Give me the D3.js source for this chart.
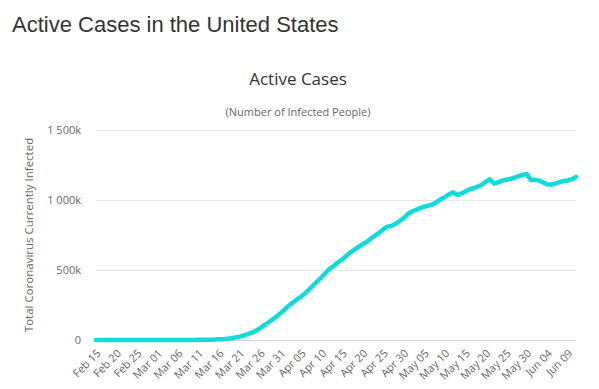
<!DOCTYPE html>
<html>

<head>
  <script src="https://d3js.org/d3.v7.min.js"></script>
  <style>
    body { margin: 0; background: #fff; }
  </style>
</head>

<body>
  <svg id="chart" width="599" height="389"></svg>
  <script>
    // daily active cases, Feb 15 2020 .. Jun 11 2020
    const startDate = new Date(2020, 1, 15);
    const activeCases = [
      12, 12, 12, 12, 12, 12, 12, 22, 22, 22, 40, 45, 48, 52, 55,          // Feb 15 - Feb 29
      65, 70, 90, 120, 160, 210, 300, 400, 500, 650, 900, 1200, 1600, 2100, 2800, // Mar 01 - Mar 15
      4500, 6000, 8500, 12500, 18000, 24000, 32000, 42000, 52000, 66000, 85000,  // Mar 16 - Mar 26
      105000, 125000, 145000, 168000, 192000,                              // Mar 27 - Mar 31
      218000, 245000, 268000, 290000, 310000, 335000, 362000, 392000, 420000, 450000, // Apr 01 - Apr 10
      480000, 510000, 530000, 555000, 575000, 600000, 625000, 645000, 665000, 685000, // Apr 11 - Apr 20
      700000, 725000, 745000, 765000, 790000, 810000, 815000, 830000, 850000, 870000, // Apr 21 - Apr 30
      900000, 918000, 930000, 942000, 952000, 960000, 968000, 985000, 1005000, 1020000, // May 01 - May 10
      1040000, 1055000, 1036000, 1045000, 1060000, 1075000, 1085000, 1095000, 1108000, 1130000, // May 11 - May 20
      1148000, 1118000, 1125000, 1138000, 1145000, 1150000, 1160000, 1170000, 1180000, 1186000, // May 21 - May 30
      1143000, 1145000, 1138000, 1125000, 1110000, 1110000, 1118000, 1128000, 1136000, 1140000, // May 31 - Jun 09
      1148000, 1165000                                                     // Jun 10 - Jun 11
    ];
    const yTicks = [0, 500000, 1000000, 1500000];
    const yTickLabels = ["0", "500k", "1 000k", "1 500k"];
    const tickEvery = 5;

    const data = activeCases.map((v, i) => ({ date: d3.timeDay.offset(startDate, i), value: v }));

    const svg = d3.select('svg#chart');
    const margins = { top: 130, right: 23, bottom: 49, left: 96 };
    const width = +svg.attr('width');
    const height = +svg.attr('height');
    const chartWidth = width - margins.left - margins.right;
    const chartHeight = height - margins.top - margins.bottom;

    const xScale = d3.scaleTime()
      .domain(d3.extent(data, d => d.date))
      .range([0, chartWidth]);
    const yScale = d3.scaleLinear()
      .domain([0, 1500000])
      .range([chartHeight, 0]);

    // page heading
    svg.append('text')
      .attr('x', 12)
      .attr('y', 32)
      .style('font', '22px "Liberation Sans", Arial, sans-serif')
      .style('fill', '#333')
      .text('Active Cases in the United States');

    svg.append('text')
      .attr('x', 298)
      .attr('y', 85)
      .attr('text-anchor', 'middle')
      .style('font', '17px "Open Sans", sans-serif')
      .style('fill', '#333')
      .text('Active Cases');

    svg.append('text')
      .attr('x', 298)
      .attr('y', 116)
      .attr('text-anchor', 'middle')
      .style('font', '11px "Open Sans", sans-serif')
      .style('fill', '#666')
      .text('(Number of Infected People)');

    const chartArea = svg.append('g')
      .attr('transform', `translate(${margins.left},${margins.top})`);

    // gridlines + y labels
    let leftAxis = d3.axisLeft(yScale)
      .tickValues(yTicks)
      .tickSize(-chartWidth)
      .tickPadding(15)
      .tickFormat((d, i) => yTickLabels[i]);
    let yAxisG = chartArea.append('g').call(leftAxis);
    yAxisG.select('.domain').remove();
    yAxisG.selectAll('.tick line')
      .attr('stroke', (d) => d === 0 ? '#ccd6eb' : '#e6e6e6');
    yAxisG.selectAll('.tick text')
      .style('font', '11px "Open Sans", sans-serif')
      .style('fill', '#666');

    // x axis labels
    const tickDates = data.filter((d, i) => i % tickEvery === 0).map(d => d.date);
    let bottomAxis = d3.axisBottom(xScale)
      .tickValues(tickDates)
      .tickSize(0)
      .tickFormat(d3.timeFormat('%b %d'));
    let xAxisG = chartArea.append('g')
      .attr('transform', `translate(0,${chartHeight})`)
      .call(bottomAxis);
    xAxisG.select('.domain').remove();
    xAxisG.selectAll('.tick text')
      .style('font', '11px "Open Sans", sans-serif')
      .style('fill', '#666')
      .attr('text-anchor', 'end')
      .attr('dy', 0)
      .attr('y', 0)
      .attr('transform', 'translate(5,14) rotate(-45)');

    // line
    const line = d3.line()
      .x(d => xScale(d.date))
      .y(d => yScale(d.value));
    chartArea.append('path')
      .datum(data)
      .attr('fill', 'none')
      .attr('stroke', '#0fdcd9')
      .attr('stroke-width', 4.5)
      .attr('stroke-linejoin', 'round')
      .attr('stroke-linecap', 'round')
      .attr('d', line);

    // y axis title
    svg.append('text')
      .attr('transform', 'rotate(-90)')
      .attr('x', -(margins.top + chartHeight / 2))
      .attr('y', 33)
      .attr('text-anchor', 'middle')
      .style('font', '11.5px "Open Sans", sans-serif')
      .style('fill', '#666')
      .text('Total Coronavirus Currently Infected');
  </script>
</body>

</html>
